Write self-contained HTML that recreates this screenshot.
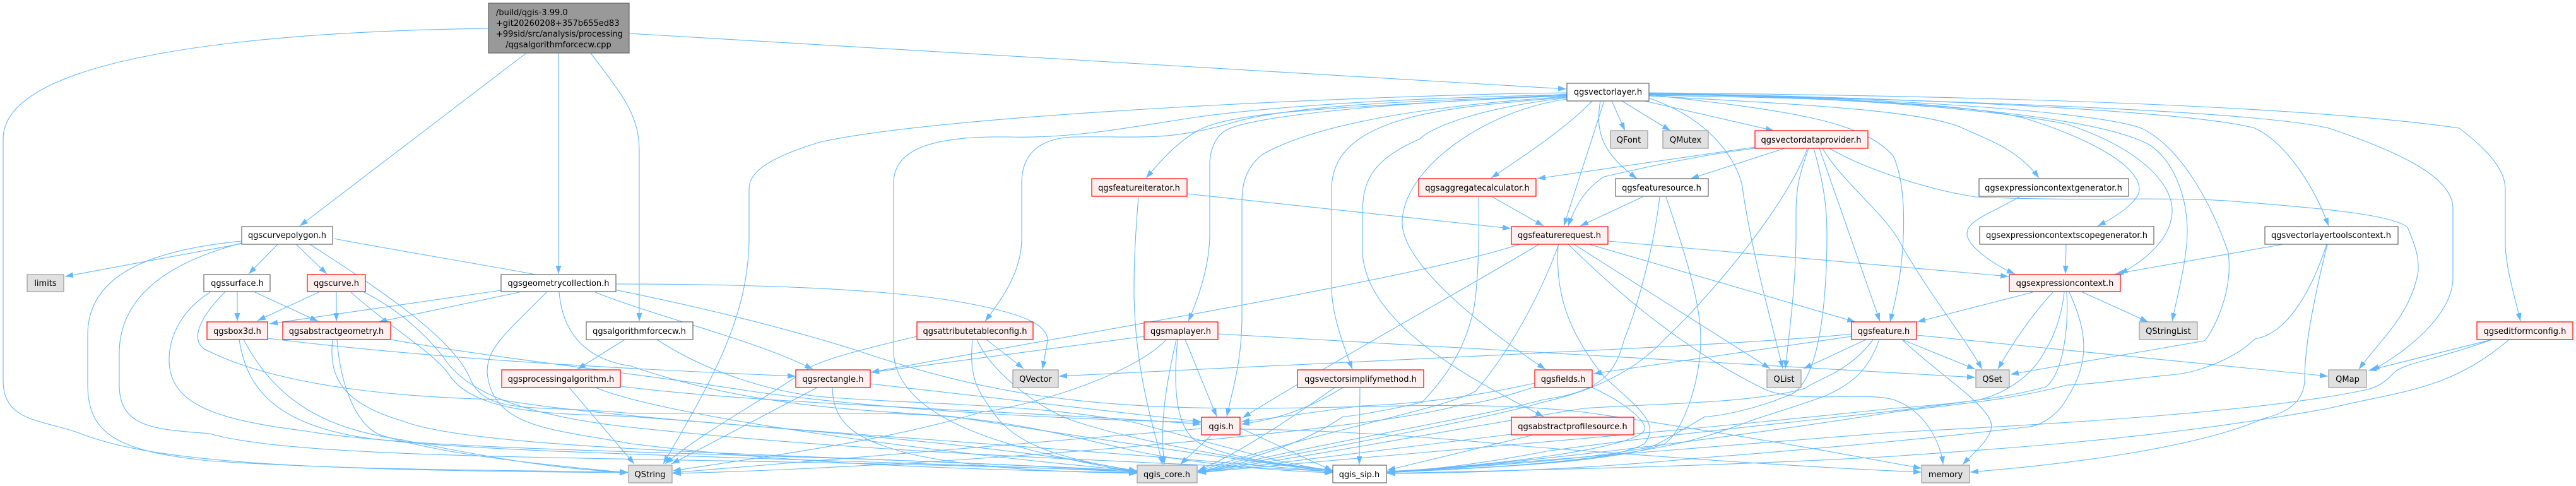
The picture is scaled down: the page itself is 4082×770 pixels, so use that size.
<!DOCTYPE html>
<html><head><meta charset="utf-8"><title>qgsalgorithmforcecw.cpp include graph</title>
<style>
html,body{margin:0;padding:0;background:#fff;width:4082px;height:770px;overflow:hidden}
svg{display:block}
text{font-family:"DejaVu Sans","Liberation Sans",sans-serif;font-size:13px;fill:#000;text-anchor:middle}
.e path{fill:none;stroke:#63b8ff;stroke-width:1.1}
.w{fill:#fff;stroke:#666;stroke-width:1.2}
.r{fill:#fff0f0;stroke:#f00;stroke-width:1.2}
.g{fill:#e0e0e0;stroke:#999;stroke-width:1.2}
</style></head><body>
<svg xmlns="http://www.w3.org/2000/svg" width="4082" height="770" viewBox="0 0 4082 770">
<defs><marker id="a" markerUnits="userSpaceOnUse" markerWidth="14" markerHeight="12" refX="13" refY="6" orient="auto"><path d="M0,1.5L13,6L0,10.5z" fill="#63b8ff"/></marker></defs>
<g class="e" marker-end="url(#a)">
<!-- root -->
<path d="M774,45C400,50 5,90 5,220L5,603C5,670 70,665 128,687C250,735 500,745 995,749"/>
<path d="M834,84L475,358"/>
<path d="M885,84L885,434"/>
<path d="M936,84C985,150 1013,180 1013,240L1013,509"/>
<path d="M997,53L2482,141"/>
<!-- curvepolygon -->
<path d="M383,386L103,438"/>
<path d="M440,387L394,434"/>
<path d="M469,387L518,434"/>
<path d="M383,382C250,395 139,430 139,530L139,610C139,690 190,715 330,730C550,745 800,745 995,748"/>
<path d="M383,385C250,420 189,480 189,560L189,610C189,680 250,680 332,687C500,735 1100,720 1802,747"/>
<path d="M491,387C620,470 720,540 745,600C770,660 850,640 1000,655L1383,655C1550,655 1650,680 1800,715C1900,735 2000,745 2112,749"/>
<path d="M529,378C750,420 1050,460 1351,553C1550,620 1700,648 2000,647C2200,645 2350,635 2510,653C2700,680 2900,715 3045,742"/>
<!-- surface -->
<path d="M376,463L376,509"/>
<path d="M404,463L504,509"/>
<path d="M333,463C290,490 268,530 268,570C268,640 340,665 485,683C700,720 1300,715 1802,748"/>
<path d="M356,463C310,510 300,545 332,557C450,615 650,630 791,633C1000,670 1600,700 2112,748"/>
<!-- curve -->
<path d="M505,463L408,508"/>
<path d="M533,463L533,509"/>
<path d="M556,463C620,520 690,560 714,597C760,660 900,655 1000,660C1400,690 1700,720 1802,749"/>
<path d="M577,463C650,500 690,550 702,565C730,610 800,655 1000,677C1400,720 1800,730 2112,747"/>
<!-- geometrycollection -->
<path d="M794,460L427,513"/>
<path d="M823,463L600,510"/>
<path d="M866,463C800,530 772,550 772,590C780,680 880,680 1000,703C1300,740 1600,745 1802,749"/>
<path d="M886,463C892,530 930,570 1000,580C1200,650 1400,650 1510,660C1700,690 1900,720 2112,748"/>
<path d="M976,450C1150,450 1400,455 1530,480C1640,500 1660,520 1660,540L1652,585"/>
<path d="M943,463C1050,505 1200,540 1288,585"/>
<!-- forcecw -->
<path d="M990,538L915,585"/>
<path d="M1041,538C1120,590 1230,625 1320,630C1450,640 1650,640 1800,670C1950,710 2050,740 2112,745"/>
<!-- processing -->
<path d="M902,614L1005,735"/>
<path d="M983,612C1200,640 1600,650 1903,672"/>
<path d="M944,614C1050,660 1500,720 1802,746"/>
<!-- box3d -->
<path d="M424,536C700,570 1000,585 1261,596"/>
<path d="M379,538C390,610 430,670 574,693C760,720 1300,725 1802,748"/>
<path d="M386,538C440,640 520,680 638,697C800,730 900,745 995,748"/>
<!-- abstractgeometry -->
<path d="M619,538C800,570 1000,590 1191,620C1400,650 1700,665 1903,669"/>
<path d="M534,538C540,620 570,680 606,690C700,720 850,735 995,749"/>
<path d="M527,538C520,600 545,640 638,667C760,715 1300,720 1802,746"/>
<!-- vectorlayer -->
<path d="M2483,149C2200,170 1950,170 1893,210C1860,230 1835,260 1816,282"/>
<path d="M2483,147C2200,150 1500,180 1300,225C1200,255 1187,280 1187,300L1187,375C1187,500 1130,600 1051,735"/>
<path d="M2483,150C2250,155 2050,165 1900,185C1800,200 1700,220 1600,217C1480,215 1416,235 1416,290L1416,560C1425,680 1650,720 1802,749"/>
<path d="M2483,151C2250,160 2050,165 1950,195C1850,225 1800,215 1700,217C1640,220 1619,250 1619,290L1619,378C1619,430 1590,470 1561,509"/>
<path d="M2483,152C2250,160 2000,180 1945,205C1925,215 1917,240 1917,260L1917,370C1917,420 1900,470 1883,509"/>
<path d="M2483,153C2300,165 2096,190 2000,245C1975,265 1968,290 1968,320L1968,500C1968,570 1955,610 1944,660"/>
<path d="M2483,154C2300,170 2110,180 2110,300L2110,453C2110,500 2130,550 2143,585"/>
<path d="M2483,155C2350,170 2270,200 2250,220C2170,255 2159,290 2159,340L2159,400C2165,520 2350,610 2446,660"/>
<path d="M2483,157C2350,175 2220,270 2222,355C2225,420 2350,520 2449,585"/>
<path d="M2542,160L2478,358"/>
<path d="M2523,160C2480,205 2410,250 2363,282"/>
<path d="M2536,160C2525,220 2550,250 2594,283"/>
<path d="M2554,160L2575,207"/>
<path d="M2570,160L2647,207"/>
<path d="M2606,160L2811,207"/>
<path d="M2612,155C2700,185 2745,240 2760,290C2775,400 2810,520 2825,584"/>
<path d="M2613,150C2830,175 2950,190 3000,247C3020,290 3020,370 3010,440C3005,470 3000,490 2995,510"/>
<path d="M2613,152C2850,165 3050,175 3110,203C3160,225 3200,240 3231,282"/>
<path d="M2613,151C2850,155 3100,160 3207,187C3300,215 3390,260 3390,300C3390,320 3350,345 3324,358"/>
<path d="M2613,150C2850,150 3150,170 3276,197C3390,235 3442,290 3442,333C3442,380 3395,415 3359,434"/>
<path d="M2613,150C2850,150 3300,170 3407,230C3450,260 3466,320 3466,367C3466,410 3450,470 3442,509"/>
<path d="M2613,149C2850,150 3300,170 3393,203C3450,230 3500,310 3531,400C3540,470 3500,535 3493,540L3186,593"/>
<path d="M2613,148C2850,150 3450,170 3573,203C3620,225 3665,290 3690,358"/>
<path d="M2613,148C2900,155 3550,170 3690,203C3800,240 3887,280 3887,330L3887,440C3887,500 3810,560 3758,587"/>
<path d="M2613,147C2950,150 3600,160 3897,203C3945,240 3970,270 3970,300L3970,390C3972,430 3985,470 3994,509"/>
<!-- featureiterator -->
<path d="M1881,307L2394,362"/>
<path d="M1804,312C1797,400 1797,430 1797,470C1800,600 1830,680 1842,736"/>
<!-- attributetableconfig -->
<path d="M1563,538L1622,584"/>
<path d="M1453,533C1380,550 1320,565 1287,580C1200,640 1120,680 1054,735"/>
<path d="M1541,538C1535,600 1550,620 1574,653C1610,710 1700,730 1802,746"/>
<path d="M1548,538C1570,590 1650,650 1702,667C1800,700 2000,735 2112,746"/>
<!-- maplayer -->
<path d="M1813,533L1380,590"/>
<path d="M1848,538C1800,590 1650,640 1555,653C1400,700 1200,725 1066,746"/>
<path d="M1878,538L1928,660"/>
<path d="M1864,538C1845,620 1838,680 1845,736"/>
<path d="M1866,538C1860,600 1860,670 1893,697C1930,725 2050,738 2112,745"/>
<path d="M1930,529L3130,598"/>
<!-- featurerequest -->
<path d="M2408,387C2250,440 1700,530 1380,590"/>
<path d="M2439,387C2300,470 2100,580 1969,662"/>
<path d="M2548,382L3183,438"/>
<path d="M2518,387L2940,510"/>
<path d="M2494,387L2805,584"/>
<path d="M2469,387C2465,460 2480,520 2542,597C2600,650 2630,670 2606,703C2550,735 2350,740 2198,748"/>
<path d="M2485,387C2580,480 2680,560 2797,617C2850,640 2950,620 3000,633C3050,650 3075,700 3079,736"/>
<path d="M2470,387C2440,470 2390,560 2338,620C2280,650 2100,680 1898,747"/>
<!-- simplifymethod -->
<path d="M2155,614L2154,736"/>
<path d="M2115,614C2050,660 1960,720 1898,746"/>
<path d="M2128,614C2070,650 2020,665 1967,672"/>
<!-- aggregatecalculator -->
<path d="M2365,312L2446,358"/>
<path d="M2343,312C2345,400 2340,480 2332,503C2310,590 2250,637 2255,637C2200,650 2140,660 2128,660C2085,690 2030,715 1898,748"/>
<!-- featuresource -->
<path d="M2603,312L2504,358"/>
<path d="M2630,312C2620,400 2590,500 2574,537C2560,590 2540,620 2446,633C2350,660 2100,700 1898,749"/>
<path d="M2640,312C2670,400 2695,480 2695,537C2695,600 2670,680 2638,703C2550,735 2350,740 2198,749"/>
<!-- vectordataprovider -->
<path d="M2781,233L2436,283"/>
<path d="M2781,235C2700,245 2620,262 2542,280C2510,300 2495,330 2485,358"/>
<path d="M2828,235L2679,283"/>
<path d="M2864,235C2830,330 2700,480 2638,537C2590,590 2520,620 2446,637C2350,665 2100,710 1898,749"/>
<path d="M2866,235C2850,280 2846,300 2846,340L2846,370C2846,450 2835,530 2829,584"/>
<path d="M2874,235C2890,290 2895,330 2895,370C2895,440 2890,590 2842,623C2780,650 2720,660 2702,660C2650,690 2620,710 2606,710C2500,730 2330,740 2198,748"/>
<path d="M2883,235L2979,509"/>
<path d="M2888,235C2920,290 2990,340 3014,390C3060,470 3110,530 3141,585"/>
<path d="M2899,235C2950,265 3050,300 3131,312C3300,320 3450,310 3552,320C3680,330 3790,340 3815,360C3832,400 3832,410 3832,430C3820,500 3770,540 3738,585"/>
<!-- expression context generators -->
<path d="M3200,312C3150,340 3117,350 3117,370C3117,390 3160,420 3193,434"/>
<path d="M3274,387L3273,434"/>
<path d="M3618,387L3352,434"/>
<!-- toolscontext -->
<path d="M3688,387C3660,500 3652,560 3652,603C3650,640 3620,655 3587,663C3480,710 3280,735 3122,748"/>
<path d="M3687,387C3660,470 3620,530 3573,537C3540,570 3480,590 3449,593C3380,600 3300,610 3276,610C3180,635 3100,640 3000,653C2700,700 2400,735 2198,748"/>
<!-- qgsexpressioncontext -->
<path d="M3221,463L3038,510"/>
<path d="M3253,463C3210,510 3180,560 3166,585"/>
<path d="M3300,463L3404,510"/>
<path d="M3271,463C3265,520 3242,553 3242,553C3220,600 3170,625 3138,633C3000,655 2700,680 2450,715C2350,735 2260,745 2198,748"/>
<path d="M3275,463C3278,520 3270,590 3242,613C3180,630 3100,640 3000,647C2600,690 2200,720 1898,749"/>
<path d="M3279,463C3305,520 3315,570 3276,630C3260,660 3230,677 3207,677C3100,690 2900,710 2700,725C2500,745 2300,750 2198,750"/>
<!-- qgsfeature -->
<path d="M2957,538L2858,584"/>
<path d="M2934,533L2525,592"/>
<path d="M2934,529C2800,545 2200,570 1678,596"/>
<path d="M3014,538L3130,585"/>
<path d="M3037,531L3689,596"/>
<path d="M3014,538C3080,600 3165,650 3155,680C3150,700 3125,720 3110,736"/>
<path d="M2968,538C2930,590 2880,600 2861,615C2780,640 2600,640 2510,647C2300,680 2100,720 1898,748"/>
<path d="M2978,538C2960,590 2930,610 2893,627C2830,650 2790,660 2765,670C2700,695 2650,705 2638,707C2500,735 2300,745 2198,748"/>
<!-- qgsfields -->
<path d="M2432,607C2330,630 2240,640 2159,643C2100,650 2040,660 1967,668"/>
<path d="M2432,613C2380,630 2340,640 2319,640C2200,680 1500,740 1066,750"/>
<path d="M2523,614C2580,640 2610,670 2606,680C2600,710 2350,740 2198,747"/>
<!-- profile source -->
<path d="M2395,688L1898,749"/>
<path d="M2430,689L2198,745"/>
<!-- qgsrectangle -->
<path d="M1379,608L1903,668"/>
<path d="M1295,614L1064,735"/>
<path d="M1319,614C1320,680 1370,700 1446,720C1560,745 1700,748 1802,750"/>
<!-- qgis.h -->
<path d="M1904,679L1066,749"/>
<path d="M1920,689L1870,736"/>
<path d="M1965,678L2112,746"/>
<path d="M1965,680C2100,680 2300,695 2415,707C2650,725 2850,740 3045,748"/>
<!-- editformconfig -->
<path d="M3949,538L3753,587"/>
<path d="M3949,538C3860,570 3810,575 3794,590C3780,605 3770,612 3752,617C3600,650 3300,670 3000,685C2700,710 2400,735 2198,749"/>
<path d="M3976,538C3880,620 3800,620 3690,647C3400,700 3100,715 3000,723C2700,740 2400,745 2198,750"/>
</g>
<g>
<rect class="g" x="774" y="5" width="223" height="79" style="fill:#999;stroke:#666"/>
<text x="786" y="24" style="text-anchor:start">/build/qgis-3.99.0</text>
<text x="786" y="41" style="text-anchor:start">+git20260208+357b655ed83</text>
<text x="786" y="58" style="text-anchor:start">+99sid/src/analysis/processing</text>
<text x="885" y="75">/qgsalgorithmforcecw.cpp</text>

<rect class="w" x="2483" y="132" width="130" height="28"/><text x="2548" y="150">qgsvectorlayer.h</text>
<rect class="w" x="383" y="359" width="144" height="28"/><text x="455" y="377">qgscurvepolygon.h</text>
<rect class="g" x="43" y="435" width="58" height="27"/><text x="72" y="453">limits</text>
<rect class="w" x="323" y="435" width="105" height="27"/><text x="376" y="453">qgssurface.h</text>
<rect class="r" x="487" y="435" width="92" height="27"/><text x="533" y="453">qgscurve.h</text>
<rect class="w" x="794" y="435" width="182" height="27"/><text x="885" y="453">qgsgeometrycollection.h</text>
<rect class="r" x="328" y="510" width="96" height="28"/><text x="376" y="529">qgsbox3d.h</text>
<rect class="r" x="448" y="510" width="171" height="28"/><text x="533" y="529">qgsabstractgeometry.h</text>
<rect class="w" x="929" y="510" width="169" height="28"/><text x="1013" y="529">qgsalgorithmforcecw.h</text>
<rect class="r" x="795" y="586" width="188" height="28"/><text x="889" y="605">qgsprocessingalgorithm.h</text>
<rect class="g" x="996" y="737" width="69" height="28"/><text x="1030" y="756">QString</text>
<rect class="r" x="1730" y="283" width="151" height="28"/><text x="1805" y="302">qgsfeatureiterator.h</text>
<rect class="r" x="1453" y="510" width="184" height="28"/><text x="1545" y="529">qgsattributetableconfig.h</text>
<rect class="r" x="1813" y="510" width="117" height="28"/><text x="1871" y="529">qgsmaplayer.h</text>
<rect class="r" x="1261" y="586" width="118" height="28"/><text x="1320" y="605">qgsrectangle.h</text>
<rect class="g" x="1605" y="586" width="72" height="28"/><text x="1641" y="605">QVector</text>
<rect class="r" x="1904" y="661" width="61" height="28"/><text x="1935" y="680">qgis.h</text>
<rect class="g" x="1802" y="737" width="95" height="28"/><text x="1849" y="756">qgis_core.h</text>
<rect class="g" x="2552" y="207" width="59" height="28"/><text x="2581" y="226">QFont</text>
<rect class="g" x="2635" y="207" width="72" height="28"/><text x="2671" y="226">QMutex</text>
<rect class="r" x="2781" y="207" width="179" height="28"/><text x="2870" y="226">qgsvectordataprovider.h</text>
<rect class="r" x="2248" y="283" width="186" height="28"/><text x="2341" y="302">qgsaggregatecalculator.h</text>
<rect class="w" x="2560" y="283" width="147" height="28"/><text x="2633" y="302">qgsfeaturesource.h</text>
<rect class="r" x="2395" y="359" width="153" height="28"/><text x="2471" y="377">qgsfeaturerequest.h</text>
<rect class="r" x="2934" y="510" width="103" height="28"/><text x="2985" y="529">qgsfeature.h</text>
<rect class="r" x="2056" y="586" width="200" height="28"/><text x="2156" y="605">qgsvectorsimplifymethod.h</text>
<rect class="r" x="2432" y="586" width="91" height="28"/><text x="2477" y="605">qgsfields.h</text>
<rect class="g" x="2800" y="586" width="54" height="28"/><text x="2827" y="605">QList</text>
<rect class="r" x="2395" y="661" width="194" height="28"/><text x="2492" y="680">qgsabstractprofilesource.h</text>
<rect class="w" x="2112" y="737" width="85" height="28"/><text x="2154" y="756">qgis_sip.h</text>
<rect class="w" x="3136" y="283" width="237" height="28"/><text x="3254" y="302">qgsexpressioncontextgenerator.h</text>
<rect class="w" x="3137" y="359" width="276" height="28"/><text x="3275" y="377">qgsexpressioncontextscopegenerator.h</text>
<rect class="w" x="3589" y="359" width="211" height="28"/><text x="3694" y="377">qgsvectorlayertoolscontext.h</text>
<rect class="r" x="3184" y="435" width="176" height="27"/><text x="3272" y="453">qgsexpressioncontext.h</text>
<rect class="g" x="3390" y="510" width="92" height="28"/><text x="3436" y="529">QStringList</text>
<rect class="g" x="3131" y="586" width="53" height="28"/><text x="3157" y="605">QSet</text>
<rect class="g" x="3690" y="586" width="60" height="28"/><text x="3720" y="605">QMap</text>
<rect class="g" x="3045" y="737" width="76" height="28"/><text x="3083" y="756">memory</text>
<rect class="r" x="3925" y="510" width="152" height="28"/><text x="4001" y="529">qgseditformconfig.h</text>
</g>
</svg>
</body></html>
